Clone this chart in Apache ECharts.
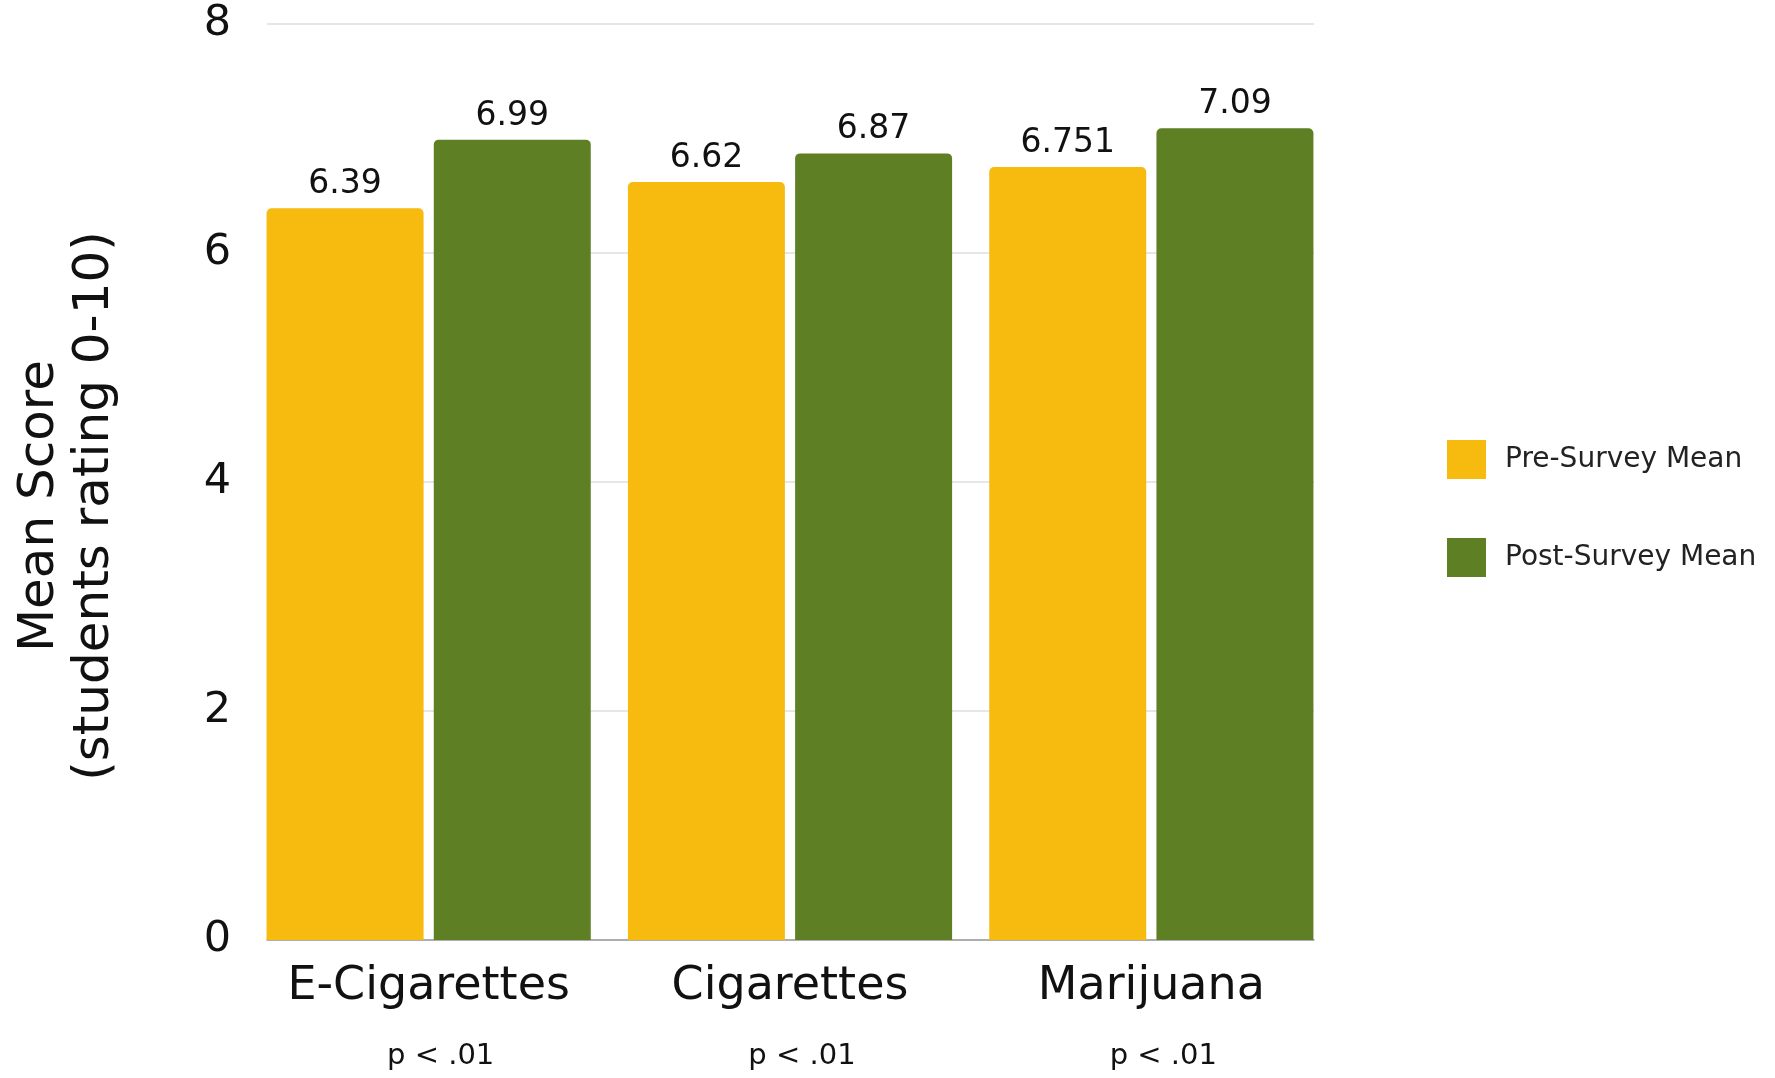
<!DOCTYPE html>
<html>
<head>
<meta charset="utf-8">
<script src="https://cdn.jsdelivr.net/npm/echarts@6/dist/echarts.min.js"></script>
<style>
html,body{margin:0;padding:0;background:#fff;}
#chart{width:1775px;height:1078px;}
</style>
</head>
<body>
<div id="chart"></div>
<script>
const categories = ['E-Cigarettes', 'Cigarettes', 'Marijuana'];
const pValues = ['p < .01', 'p < .01', 'p < .01'];
const preMean = [6.39, 6.62, 6.751];
const postMean = [6.99, 6.87, 7.09];
const seriesNames = ['Pre-Survey Mean', 'Post-Survey Mean'];
const yTicks = { min: 0, max: 8, interval: 2 };

const FONT = 'DejaVu Sans';
const chart = echarts.init(document.getElementById('chart'));
const gridTop = 24, gridBottom = 138;

chart.setOption({
  animation: false,
  textStyle: { fontFamily: FONT },
  legend: {
    data: seriesNames,
    orient: 'vertical',
    left: 1442,
    top: 435,
    itemWidth: 39,
    itemHeight: 39,
    itemGap: 59,
    icon: 'rect',
    textStyle: { fontSize: 28, color: '#222', fontFamily: FONT, padding: [0, 0, 0, 14] }
  },
  grid: [
    { left: 248, width: 1084, top: gridTop, bottom: gridBottom },
    { left: 267, width: 1047, top: gridTop, bottom: gridBottom }
  ],
  xAxis: [
    {
      type: 'category', gridIndex: 0, data: categories,
      axisLine: { show: false }, axisTick: { show: false },
      axisLabel: {
        margin: 20,
        formatter: function (v, i) { return '{a|' + v + '}\n{b|' + pValues[i] + '}'; },
        rich: {
          a: { fontSize: 46, lineHeight: 54, color: '#111', fontFamily: FONT },
          b: { fontSize: 29, lineHeight: 84, color: '#111', fontFamily: FONT, padding: [0, 0, 0, 24] }
        }
      }
    },
    {
      type: 'value', gridIndex: 1, min: 0, max: 1,
      axisLine: { show: true, lineStyle: { color: '#9a9a9a', width: 1.5 } },
      axisTick: { show: false }, axisLabel: { show: false }, splitLine: { show: false }
    }
  ],
  yAxis: [
    { type: 'value', gridIndex: 0, min: yTicks.min, max: yTicks.max, show: false },
    {
      type: 'value', gridIndex: 1, min: yTicks.min, max: yTicks.max, interval: yTicks.interval,
      axisLine: { show: false }, axisTick: { show: false },
      axisLabel: { fontSize: 43, color: '#111', margin: 36, fontFamily: FONT },
      splitLine: { lineStyle: { color: '#dedede', width: 1.5 } },
      name: 'Mean Score\n(students rating 0-10)',
      nameLocation: 'middle',
      nameGap: 144,
      nameTextStyle: { fontSize: 50, lineHeight: 55, color: '#111', fontFamily: FONT, padding: [0, 48, 0, 0] }
    }
  ],
  series: [
    {
      name: seriesNames[0], type: 'bar', xAxisIndex: 0, yAxisIndex: 0,
      data: preMean, barWidth: 157, barGap: '6.5%',
      itemStyle: { color: '#F7BA0F', borderRadius: [5, 5, 0, 0] },
      label: { show: true, position: 'top', distance: 7, fontSize: 33, color: '#111', fontFamily: FONT }
    },
    {
      name: seriesNames[1], type: 'bar', xAxisIndex: 0, yAxisIndex: 0,
      data: postMean, barWidth: 157, barGap: '6.5%',
      itemStyle: { color: '#5F7F24', borderRadius: [5, 5, 0, 0] },
      label: { show: true, position: 'top', distance: 7, fontSize: 33, color: '#111', fontFamily: FONT }
    }
  ]
});
</script>
</body>
</html>
